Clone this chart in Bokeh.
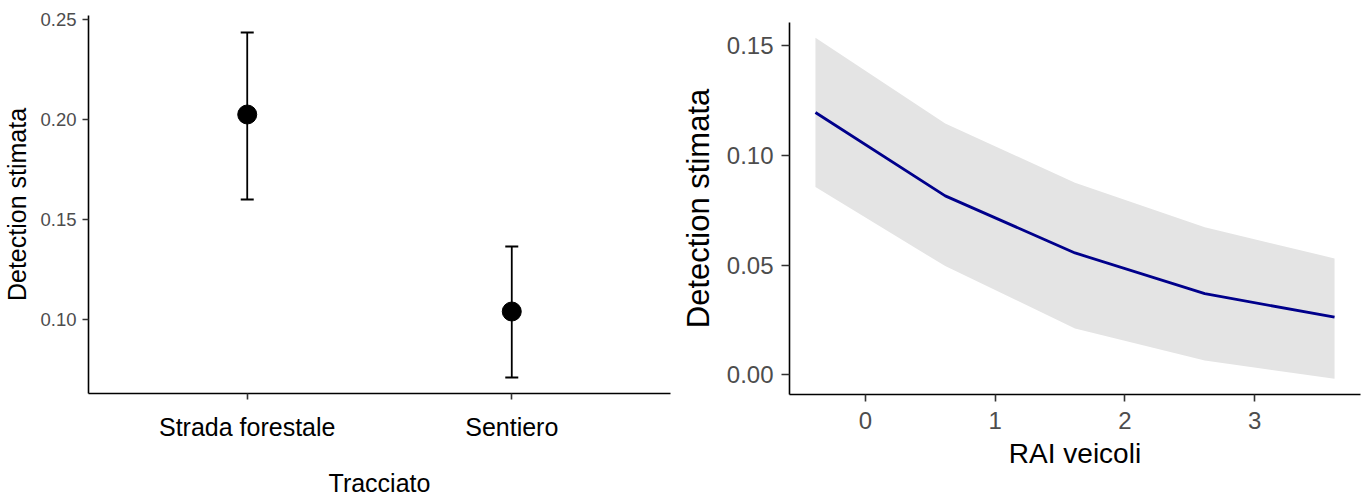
from bokeh.plotting import figure
from bokeh.layouts import row, column
from bokeh.models import (FactorRange, Range1d, Whisker, TeeHead, ColumnDataSource,
                          PrintfTickFormatter)
from bokeh.embed import file_html
from bokeh.resources import INLINE

# ---- data: left panel (detection by track type) ----
tracciato = ["Strada forestale", "Sentiero"]
det_est = [0.2025, 0.104]
det_low = [0.160, 0.071]
det_up = [0.2435, 0.1365]
left_yticks = [0.10, 0.15, 0.20, 0.25]

# ---- data: right panel (detection vs RAI veicoli) ----
rai_x = [-0.385, 0.615, 1.615, 2.615, 3.615]
rai_fit = [0.1195, 0.0815, 0.0555, 0.0370, 0.0262]
rai_low = [0.0855, 0.0495, 0.0211, 0.0065, -0.0018]
rai_up = [0.1535, 0.1145, 0.0875, 0.0672, 0.0530]
right_yticks = [0.00, 0.05, 0.10, 0.15]
right_xticks = [0, 1, 2, 3]

FONT = "Liberation Sans"
TICK_COL = "#4D4D4D"


def style(p):
    p.outline_line_color = None
    p.xgrid.grid_line_color = None
    p.ygrid.grid_line_color = None
    p.background_fill_color = "white"
    p.border_fill_color = "white"
    for ax in (p.xaxis[0], p.yaxis[0]):
        ax.axis_line_color = "black"
        ax.axis_line_width = 1.6
        ax.major_tick_line_color = "#333333"
        ax.major_tick_line_width = 1.6
        ax.major_tick_in = 0
        ax.major_tick_out = 6
        ax.minor_tick_line_color = None
        ax.major_label_text_font = FONT
        ax.major_label_text_color = TICK_COL
        ax.axis_label_text_font = FONT
        ax.axis_label_text_font_style = "normal"
        ax.axis_label_text_color = "black"


# ---------------- left ----------------
src1 = ColumnDataSource(dict(x=tracciato, est=det_est, low=det_low, up=det_up))
p1 = figure(width=677, height=500,
            x_range=FactorRange(factors=tracciato, range_padding=0.1,
                                range_padding_units="absolute"),
            y_range=Range1d(0.063, 0.252),
            output_backend="svg", toolbar_location=None,
            min_border_left=88, min_border_right=7,
            min_border_top=15, min_border_bottom=107)
style(p1)
p1.add_layout(Whisker(source=src1, base="x", upper="up", lower="low",
                      line_color="black", line_width=1.8,
                      upper_head=TeeHead(size=13, line_color="black", line_width=1.8),
                      lower_head=TeeHead(size=13, line_color="black", line_width=1.8)))
p1.scatter("x", "est", source=src1, size=19, color="black")

p1.yaxis.ticker = left_yticks
p1.yaxis.formatter = PrintfTickFormatter(format="%.2f")
p1.yaxis.major_label_text_font_size = "18.5px"
p1.yaxis.major_label_standoff = 6
p1.yaxis.axis_label = "Detection stimata"
p1.yaxis.axis_label_text_font_size = "25px"
p1.yaxis.axis_label_standoff = 6
p1.xaxis.major_label_text_font_size = "25px"
p1.xaxis.major_label_text_color = "black"
p1.xaxis.major_label_standoff = 13
p1.xaxis.axis_label = "Tracciato"
p1.xaxis.axis_label_text_font_size = "25px"
p1.xaxis.axis_label_standoff = 25

# ---------------- right ----------------
src2 = ColumnDataSource(dict(x=rai_x, fit=rai_fit, low=rai_low, up=rai_up))
p2 = figure(width=690, height=500,
            x_range=Range1d(-0.585, 3.815),
            y_range=Range1d(-0.009, 0.1605),
            output_backend="svg", toolbar_location=None,
            min_border_left=111, min_border_right=7,
            min_border_top=22, min_border_bottom=106)
style(p2)
p2.varea(x="x", y1="low", y2="up", source=src2, fill_color="#E4E4E4")
p2.line(x="x", y="fit", source=src2, line_color="#00008B", line_width=2.8)

p2.yaxis.ticker = right_yticks
p2.yaxis.formatter = PrintfTickFormatter(format="%.2f")
p2.yaxis.major_label_text_font_size = "24px"
p2.yaxis.major_label_standoff = 8
p2.yaxis.major_tick_out = 8
p2.yaxis.axis_label = "Detection stimata"
p2.yaxis.axis_label_text_font_size = "31px"
p2.yaxis.axis_label_standoff = 8
p2.xaxis.ticker = right_xticks
p2.xaxis.major_label_text_font_size = "24px"
p2.xaxis.major_label_standoff = 10
p2.xaxis.major_tick_out = 7
p2.xaxis.axis_label = "RAI veicoli"
p2.xaxis.axis_label_text_font_size = "28px"
p2.xaxis.axis_label_standoff = 6

layout = row(column(p1), column(p2))
open("out.html", "w").write(file_html(layout, INLINE))
